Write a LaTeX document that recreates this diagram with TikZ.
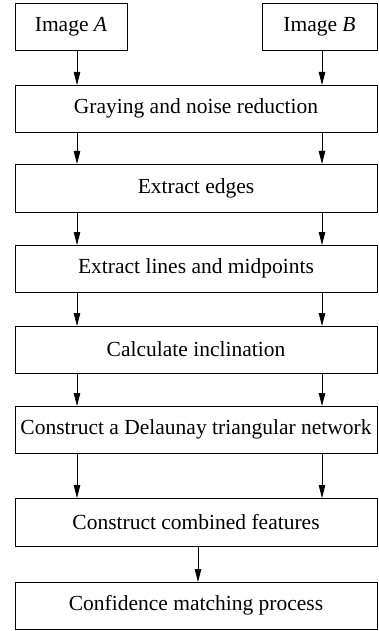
\documentclass[tikz,border=0pt]{standalone}
\usepackage{fontspec}
\setmainfont{Liberation Serif}
\usetikzlibrary{arrows.meta}
\begin{document}
\begin{tikzpicture}[x=1pt,y=-1pt,
  stepbox/.style={draw, line width=0.9pt, rectangle, inner sep=0pt, outer sep=0pt,
    anchor=north west, font=\fontsize{21.5}{25}\selectfont, minimum height=47pt},
  widebox/.style={stepbox, minimum width=362pt},
  flow/.style={-{Triangle[length=13pt,width=6.5pt]}, line width=0.8pt}]
\useasboundingbox (0,0) rectangle (378,631);

% input images
\node[stepbox, minimum width=112pt] (imA) at (15,3) {Image \textit{A}};
\node[stepbox, minimum width=115pt] (imB) at (262,3) {Image \textit{B}};

% processing steps
\node[widebox] (gray)  at (15,85)  {Graying and noise reduction};
\node[widebox, minimum height=48pt] (edges) at (15,164) {Extract edges};
\node[widebox] (lines) at (15,245) {Extract lines and midpoints};
\node[widebox] (incl)  at (15,326) {Calculate inclination};
\node[widebox] (delau) at (15,406) {Construct a Delaunay triangular network};
\node[widebox, minimum height=48pt] (comb)  at (15,498) {Construct combined features};
\node[widebox] (conf)  at (15,582) {Confidence matching process};

% columns of the two parallel streams
\coordinate (xl) at (77,0);
\coordinate (xr) at (322,0);
\coordinate (xm) at (198,0);

\draw[flow] (imA.south -| xl) -- (gray.north -| xl);
\draw[flow] (imB.south -| xr) -- (gray.north -| xr);
\foreach \u/\v in {gray/edges, edges/lines, lines/incl, incl/delau, delau/comb} {
  \draw[flow] (\u.south -| xl) -- (\v.north -| xl);
  \draw[flow] (\u.south -| xr) -- (\v.north -| xr);
}
\draw[flow] (comb.south -| xm) -- (conf.north -| xm);
\end{tikzpicture}
\end{document}
